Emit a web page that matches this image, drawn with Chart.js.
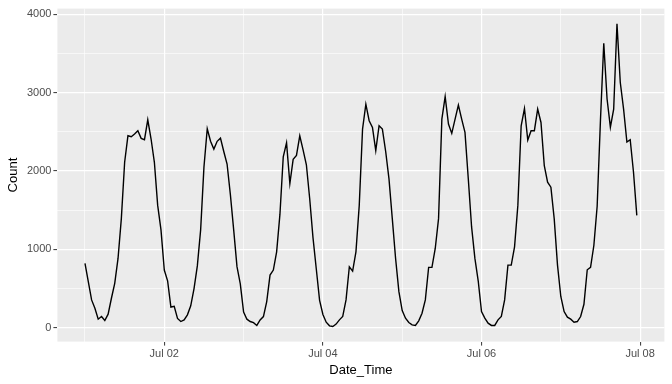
<!DOCTYPE html>
<html>
<head>
<meta charset="utf-8">
<script src="https://cdn.jsdelivr.net/npm/chart.js@4/dist/chart.umd.min.js"></script>
<style>
  html, body { margin: 0; padding: 0; background: #ffffff; }
  #chart { display: block; }
</style>
</head>
<body>
<canvas id="chart" width="672" height="384"></canvas>
<script>
// Hourly counts, one array per day (00:00 .. 23:00)
var jul01 = [822, 588, 356, 250, 110, 144, 93, 174, 377, 568, 885, 1393,
             2112, 2451, 2438, 2472, 2515, 2417, 2400, 2654, 2409, 2112, 1562, 1250];
var jul02 = [737, 600, 265, 275, 120, 80, 100, 165, 280, 500, 790, 1250,
             2050, 2540, 2380, 2280, 2380, 2420, 2250, 2090, 1700, 1250, 780, 560];
var jul03 = [200, 110, 80, 65, 30, 100, 143, 334, 673, 737, 969, 1450,
             2180, 2360, 1840, 2150, 2200, 2450, 2270, 2080, 1650, 1150, 750, 350];
var jul04 = [170, 72, 25, 17, 47, 101, 144, 356, 779, 724, 969, 1562,
             2536, 2853, 2642, 2557, 2261, 2578, 2536, 2250, 1901, 1393, 885, 461];
var jul05 = [220, 123, 68, 38, 30, 89, 186, 356, 771, 771, 1012, 1393,
             2663, 2950, 2600, 2481, 2663, 2841, 2663, 2493, 1901, 1287, 885, 600];
var jul06 = [207, 123, 59, 30, 30, 101, 144, 356, 800, 800, 1033, 1562,
             2578, 2798, 2396, 2515, 2515, 2790, 2620, 2070, 1858, 1795, 1393, 800];
var jul07 = [400, 207, 136, 110, 72, 80, 144, 300, 740, 771, 1050, 1550,
             2650, 3630, 2920, 2560, 2790, 3880, 3130, 2790, 2370, 2400, 1985, 1435];

// Axis ticks: one per day (hours since Jul 01 00:00), labels only on even days
var dayTicks = [0, 24, 48, 72, 96, 120, 144, 168];
var dayLabels = ['', 'Jul 02', '', 'Jul 04', '', 'Jul 06', '', 'Jul 08'];
var countTicks = [0, 500, 1000, 1500, 2000, 2500, 3000, 3500, 4000];

(function() {
    'use strict';

    var counts = [].concat(jul01, jul02, jul03, jul04, jul05, jul06, jul07);
    var points = counts.map(function(c, i) {
        return { x: i, y: c };
    });

    // ggplot-style 5% expansion of the data range
    var xLo = 0, xHi = counts.length - 1;
    var yLo = Math.min.apply(null, counts), yHi = Math.max.apply(null, counts);
    var xPad = (xHi - xLo) * 0.05, yPad = (yHi - yLo) * 0.05;

    var fontFamily = '"Liberation Sans", Arial, Helvetica, sans-serif';

    /**
     * Grey panel behind the plot
     */
    var panelBackground = {
        id: 'panelBackground',
        beforeDraw: function(chart) {
            var ctx = chart.ctx;
            var a = chart.chartArea;
            ctx.save();
            ctx.fillStyle = '#EBEBEB';
            ctx.fillRect(a.left, a.top, a.right - a.left, a.bottom - a.top);
            ctx.restore();
        }
    };

    function isMajorDay(ctx) {
        return ctx.tick && dayLabels[dayTicks.indexOf(ctx.tick.value)] !== '';
    }

    function isMajorCount(ctx) {
        return ctx.tick && ctx.tick.value % 1000 === 0;
    }

    new Chart(document.getElementById('chart').getContext('2d'), {
        type: 'line',
        data: {
            datasets: [{
                data: points,
                borderColor: '#000000',
                borderWidth: 1.4,
                pointRadius: 0,
                tension: 0,
                fill: false
            }]
        },
        options: {
            responsive: false,
            animation: false,
            layout: {
                padding: { top: 6.5, right: 7.6, left: 0, bottom: 0 }
            },
            plugins: {
                legend: { display: false },
                tooltip: { enabled: false }
            },
            scales: {
                x: {
                    type: 'linear',
                    min: xLo - xPad,
                    max: xHi + xPad,
                    afterBuildTicks: function(scale) {
                        scale.ticks = dayTicks.map(function(v) { return { value: v }; });
                    },
                    afterFit: function(scale) {
                        scale.height = 42.4;
                    },
                    border: { display: false },
                    grid: {
                        color: '#FFFFFF',
                        lineWidth: function(ctx) { return isMajorDay(ctx) ? 1.2 : 0.6; },
                        drawTicks: true,
                        tickLength: 4,
                        tickWidth: 1,
                        tickColor: function(ctx) { return isMajorDay(ctx) ? '#333333' : 'rgba(0,0,0,0)'; }
                    },
                    ticks: {
                        autoSkip: false,
                        maxRotation: 0,
                        padding: 2,
                        color: '#4D4D4D',
                        font: { family: fontFamily, size: 11 },
                        callback: function(value) {
                            var i = dayTicks.indexOf(value);
                            return i >= 0 ? dayLabels[i] : '';
                        }
                    },
                    title: {
                        display: true,
                        text: 'Date_Time',
                        color: '#000000',
                        font: { family: fontFamily, size: 13 },
                        padding: { top: 6, bottom: 6 }
                    }
                },
                y: {
                    min: yLo - yPad,
                    max: yHi + yPad,
                    afterBuildTicks: function(scale) {
                        scale.ticks = countTicks.map(function(v) { return { value: v }; });
                    },
                    afterFit: function(scale) {
                        scale.width = 57.4;
                    },
                    border: { display: false },
                    grid: {
                        color: '#FFFFFF',
                        lineWidth: function(ctx) { return isMajorCount(ctx) ? 1.2 : 0.6; },
                        drawTicks: true,
                        tickLength: 4,
                        tickWidth: 1,
                        tickColor: function(ctx) { return isMajorCount(ctx) ? '#333333' : 'rgba(0,0,0,0)'; }
                    },
                    ticks: {
                        autoSkip: false,
                        padding: 2,
                        color: '#4D4D4D',
                        font: { family: fontFamily, size: 11 },
                        callback: function(value) {
                            return value % 1000 === 0 ? String(value) : '';
                        }
                    },
                    title: {
                        display: true,
                        text: 'Count',
                        color: '#000000',
                        font: { family: fontFamily, size: 13 },
                        padding: { top: 6, bottom: 6 }
                    }
                }
            }
        },
        plugins: [panelBackground]
    });
})();
</script>
</body>
</html>
